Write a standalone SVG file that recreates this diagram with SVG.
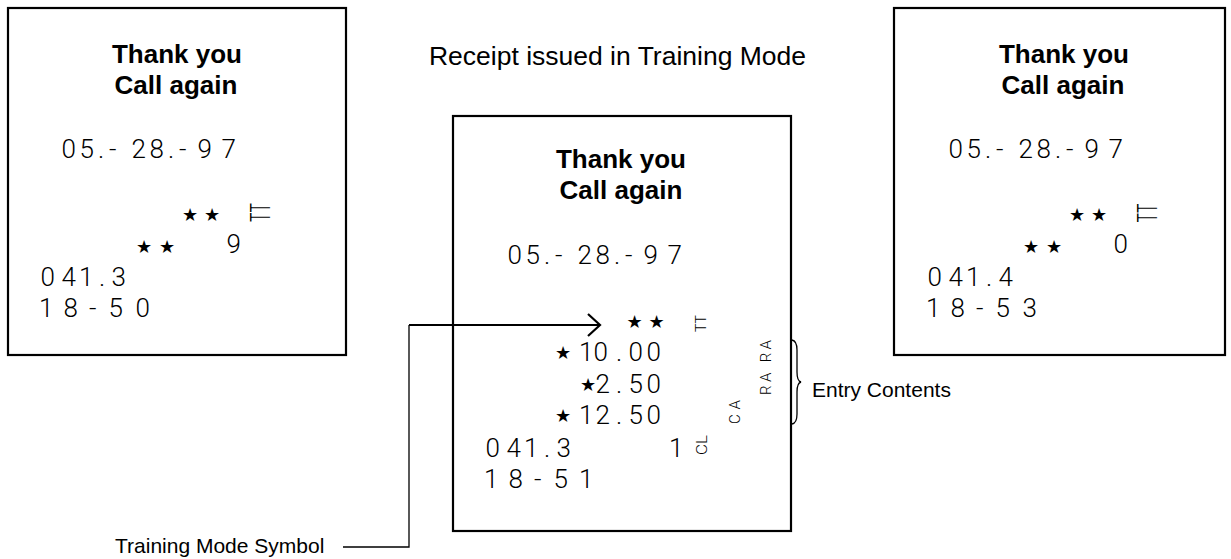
<svg xmlns="http://www.w3.org/2000/svg" width="1231" height="559" viewBox="0 0 1231 559">
<style>
.box{fill:#fff;stroke:#000;stroke-width:2.2}
.hd{font-family:"Liberation Sans",Arial,sans-serif;font-weight:bold;font-size:26px;fill:#000;text-anchor:middle}
.lbl{font-family:"Liberation Sans",Arial,sans-serif;font-size:21px;fill:#000}
.ttl{font-family:"Liberation Sans",Arial,sans-serif;font-size:26.5px;fill:#000;text-anchor:middle}
.r{font-family:Roboto,"Liberation Sans",sans-serif;font-weight:300;font-size:26px;fill:#000}
.st{font-family:"DejaVu Sans",sans-serif;font-size:18px;font-weight:normal}
.rot{font-family:Roboto,"Liberation Sans",sans-serif;font-weight:300;font-size:15px;fill:#000;text-anchor:middle}
.rotS{font-size:14px}
.rotL{font-size:27px}
.ln{fill:none;stroke:#000;stroke-width:1.3}
.arw{fill:none;stroke:#000;stroke-width:2.2}
</style>
<rect width="1231" height="559" fill="#fff"/>
<text id="title" class="ttl" x="617.5" y="65">Receipt issued in Training Mode</text>
<g id="receipt-left">
<rect class="box" x="8" y="8" width="338" height="347"/>
<text class="hd" x="177" y="63">Thank you</text>
<text class="hd" x="176" y="94">Call again</text>
<text class="r" y="158" x="61.5 79.5 98 109 119 131.5 149.5 168 179 197.5 209 221.5">05.- 28.-9 7</text>
<text class="r" y="221"><tspan class="st" x="182">★</tspan><tspan class="st" x="204">★</tspan></text>
<text class="rot rotL" transform="translate(270,212.5) rotate(-90)" textLength="19" lengthAdjust="spacingAndGlyphs">TT</text>
<text class="r" y="254"><tspan class="st" x="136" y="253">★</tspan><tspan class="st" x="159" y="253">★</tspan> <tspan x="226.5">9</tspan></text>
<text class="r" y="286" x="40.5 51 61.5 79 99 111.5">0 41.3</text>
<text class="r" y="317" x="39 51 63.5 77 89 97 108.5 121 135.5">1 8 - 5 0</text>
</g>
<g id="receipt-training">
<rect class="box" x="453" y="116" width="338" height="415"/>
<text class="hd" x="621" y="168">Thank you</text>
<text class="hd" x="621" y="199">Call again</text>
<text class="r" y="264" x="507.5 525.5 544 555 565 577.5 595.5 614 625 643.5 655 667.5">05.- 28.-9 7</text>
<text class="r" y="328"><tspan class="st" x="626.5">★</tspan><tspan class="st" x="648.5">★</tspan></text>
<text class="rot rotS" transform="translate(706,323.5) rotate(-90)" textLength="17" lengthAdjust="spacingAndGlyphs">TT</text>
<text class="r" y="361"><tspan class="st" x="555" y="359">★</tspan> <tspan x="579 593.5 616 628.5 646.5" y="361">10.00</tspan></text>
<text class="r" y="393"><tspan class="st" x="580" y="391">★</tspan><tspan x="595.5 616 628.5 646.5" y="393">2.50</tspan></text>
<text class="r" y="424"><tspan class="st" x="555" y="422">★</tspan> <tspan x="579 595.5 616 628.5 646.5" y="424">12.50</tspan></text>
<text class="r" y="457" x="485.5 496 506.5 524 544 556.5">0 41.3</text>
<text class="r" x="669" y="457">1</text>
<text class="rot" transform="translate(707,445) rotate(-90)" textLength="20" lengthAdjust="spacingAndGlyphs">CL</text>
<text class="rot" transform="translate(740,412) rotate(-90)" textLength="24">CA</text>
<text class="rot" transform="translate(771,367.5) rotate(-90)" textLength="55">RA RA</text>
<text class="r" y="488" x="484 496 508.5 522 534 543 553.5 566 579">1 8 - 5 1</text>
</g>
<g id="receipt-right">
<rect class="box" x="894" y="8" width="331" height="347"/>
<text class="hd" x="1064" y="63">Thank you</text>
<text class="hd" x="1063" y="94">Call again</text>
<text class="r" y="158" x="948.5 966.5 985 996 1006 1018.5 1036.5 1055 1066 1084.5 1096 1108.5">05.- 28.-9 7</text>
<text class="r" y="221"><tspan class="st" x="1069">★</tspan><tspan class="st" x="1091">★</tspan></text>
<text class="rot rotL" transform="translate(1157,213) rotate(-90)" textLength="19" lengthAdjust="spacingAndGlyphs">TT</text>
<text class="r" y="254"><tspan class="st" x="1023" y="253">★</tspan><tspan class="st" x="1046" y="253">★</tspan> <tspan x="1113.5">0</tspan></text>
<text class="r" y="286" x="927.5 938 948.5 966 986 998.5">0 41.4</text>
<text class="r" y="317" x="926 938 950.5 964 976 984 995.5 1008 1022.5">1 8 - 5 3</text>
</g>
<g id="label-entry">
<text class="lbl" x="812" y="397">Entry Contents</text>
</g>
<g id="label-symbol">
<text class="lbl" x="115" y="553">Training Mode Symbol</text>
</g>
<g id="connectors">
<path class="arw" d="M409,325 H600"/>
<path class="arw" d="M588,314 L600,325 L588,336"/>
<path class="ln" d="M409,325 V547 H343"/>
<path class="ln" stroke-width="1" d="M792,340 Q797,341 797,350 L797,372 Q797,381 801,382 Q797,383 797,392 L797,414 Q797,423 792,424"/>
</g>
</svg>
